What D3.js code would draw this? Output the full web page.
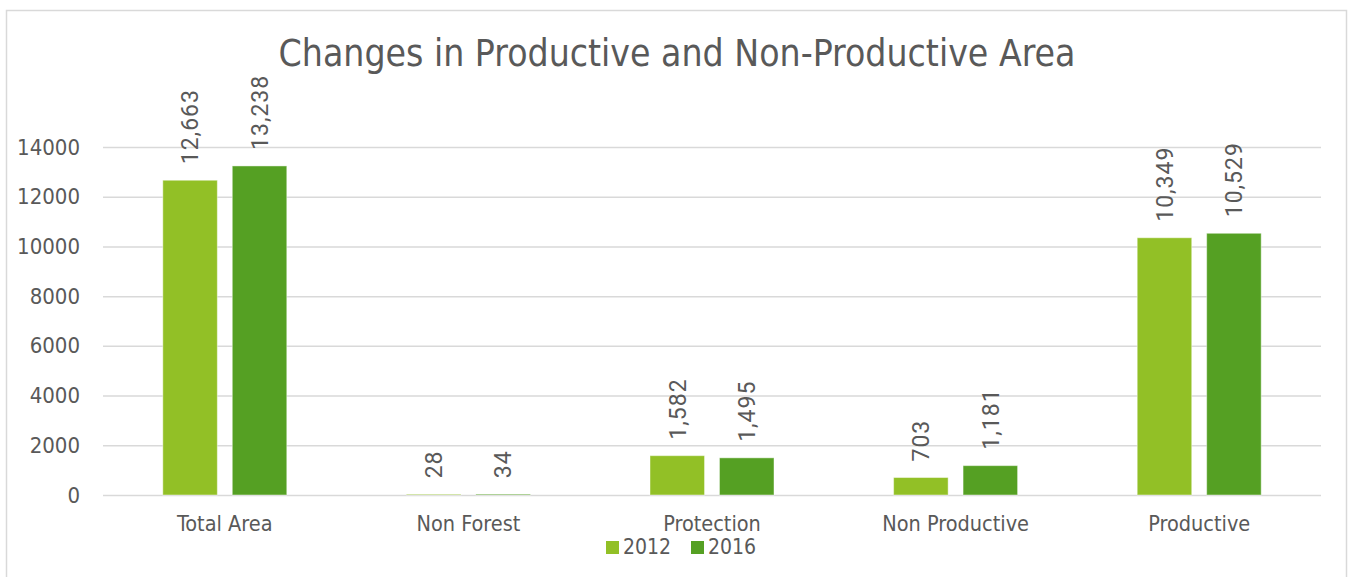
<!DOCTYPE html>
<html>
<head>
<meta charset="utf-8">
<script src="https://cdn.jsdelivr.net/npm/d3@7"></script>
<style>
  html, body { margin: 0; padding: 0; background: #fff; }
  svg { display: block; }
</style>
</head>
<body>
<svg id="chart" width="1352" height="577"></svg>
<script>
// Area by land class, 2012 vs 2016
const categories = ["Total Area", "Non Forest", "Protection", "Non Productive", "Productive"];
const seriesNames = ["2012", "2016"];
const values2012 = [12663, 28, 1582, 703, 10349];
const values2016 = [13238, 34, 1495, 1181, 10529];
const yTicks = [0, 2000, 4000, 6000, 8000, 10000, 12000, 14000];
const seriesColors = ["#92c026", "#55a023"];

const svg = d3.select("#chart");
const textColor = "#595959";
const axisFont = "'DejaVu Sans Condensed', 'DejaVu Sans', sans-serif";
const labelFont = "Roboto, 'Liberation Sans', sans-serif";

// chart frame
svg.append("rect")
  .attr("x", 6.5).attr("y", 10.5)
  .attr("width", 1340).attr("height", 620)
  .attr("fill", "#fff")
  .attr("stroke", "#d9d9d9").attr("stroke-width", 1.5);

const plot = { left: 103, right: 1321, top: 147, bottom: 495 };

const x0 = d3.scaleBand()
  .domain(categories)
  .range([plot.left, plot.right])
  .paddingInner(0.491)
  .paddingOuter(0.2455);

const x1 = d3.scaleBand()
  .domain(seriesNames)
  .range([0, x0.bandwidth()])
  .paddingInner(0.215);

const y = d3.scaleLinear()
  .domain([0, 14000])
  .range([plot.bottom, plot.top]);

// gridlines + y labels
const yAxis = d3.axisLeft(y)
  .tickValues(yTicks)
  .tickSize(-(plot.right - plot.left))
  .tickPadding(23)
  .tickFormat(d3.format("d"));

const gy = svg.append("g")
  .attr("transform", `translate(${plot.left},0)`)
  .call(yAxis);
gy.select(".domain").remove();
gy.selectAll(".tick line")
  .attr("stroke", "#d9d9d9").attr("stroke-width", 1.5);
gy.selectAll(".tick text")
  .attr("fill", textColor)
  .style("font-family", axisFont)
  .style("font-size", "22px");

// category axis
const xAxis = d3.axisBottom(x0).tickSize(0).tickPadding(0);
const gx = svg.append("g")
  .attr("transform", `translate(0,${plot.bottom})`)
  .call(xAxis);
gx.select(".domain").remove();
gx.selectAll(".tick text")
  .attr("fill", textColor)
  .attr("y", 36).attr("dy", 0)
  .style("font-family", axisFont)
  .style("font-size", "21.5px");

// bars
const rows = categories.map((c, i) => ({
  category: c,
  items: [
    { series: seriesNames[0], value: values2012[i], color: seriesColors[0] },
    { series: seriesNames[1], value: values2016[i], color: seriesColors[1] }
  ]
}));

const groups = svg.append("g").selectAll("g")
  .data(rows)
  .join("g")
  .attr("transform", d => `translate(${x0(d.category)},0)`);

groups.selectAll("rect")
  .data(d => d.items)
  .join("rect")
  .attr("x", d => x1(d.series))
  .attr("y", d => y(d.value))
  .attr("width", x1.bandwidth())
  .attr("height", d => y(0) - y(d.value))
  .attr("fill", d => d.color)
  .attr("stroke", "rgba(255,255,255,0.45)")
  .attr("stroke-width", 1);

// rotated value labels
const fmt = d3.format(",");
groups.selectAll("text.value")
  .data(d => d.items)
  .join("text")
  .attr("class", "value")
  .attr("transform", d => `translate(${x1(d.series) + x1.bandwidth() / 2},${y(d.value) - 16}) rotate(-90)`)
  .attr("dy", "0.36em")
  .attr("text-anchor", "start")
  .attr("fill", textColor)
  .style("font-family", labelFont)
  .style("font-size", "23px")
  .style("letter-spacing", "1px")
  .text(d => fmt(d.value));

// title
svg.append("text")
  .attr("x", 677).attr("y", 66)
  .attr("text-anchor", "middle")
  .attr("fill", textColor)
  .style("font-family", axisFont)
  .style("font-size", "37px")
  .text("Changes in Productive and Non-Productive Area");

// legend
const legend = svg.append("g").attr("transform", "translate(606,541)");
const legendX = d3.scaleOrdinal().domain(seriesNames).range([0, 85]);
const li = legend.selectAll("g")
  .data(seriesNames)
  .join("g")
  .attr("transform", d => `translate(${legendX(d)},0)`);
li.append("rect")
  .attr("width", 13).attr("height", 13)
  .attr("fill", (d, i) => seriesColors[i]);
li.append("text")
  .attr("x", 17).attr("y", 13)
  .attr("fill", textColor)
  .style("font-family", axisFont)
  .style("font-size", "21px")
  .text(d => d);
</script>
</body>
</html>
